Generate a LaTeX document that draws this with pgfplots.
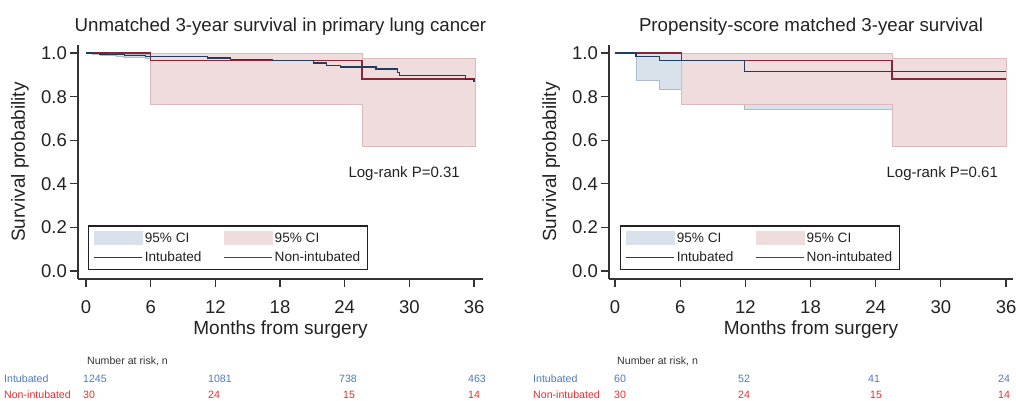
\documentclass[border=0pt]{standalone}
\usepackage{fontspec}
\setmainfont{Liberation Sans}
\usepackage{pgfplots}
\pgfplotsset{compat=1.18}
\definecolor{txt}{HTML}{222222}
\definecolor{axc}{HTML}{333333}
\definecolor{lblue}{HTML}{203D60}
\definecolor{lred}{HTML}{8C2437}
\definecolor{fblue}{HTML}{D9E2EB}
\definecolor{fred}{HTML}{EFDDDE}
\definecolor{eblue}{HTML}{AABCCE}
\definecolor{ered}{HTML}{DDB9BD}
\definecolor{nblue}{HTML}{4A7BBE}
\definecolor{nred}{HTML}{EE2B2B}
\pgfplotsset{kmaxis/.style={
  scale only axis, height=234pt, anchor=south west,
  ymin=-0.037, ymax=1.037,
  axis x line*=bottom, axis y line*=left,
  axis line style={axc, line width=1.2pt},
  tick style={axc, line width=1.2pt}, major tick length=8pt, tick align=outside,
  xtick={0,6,12,18,24,30,36}, ytick={0,0.2,0.4,0.6,0.8,1},
  /pgf/number format/assume math mode=true,
  tick label style={font=\fontsize{18.5}{21}\selectfont, text=txt},
  yticklabel style={/pgf/number format/fixed, /pgf/number format/fixed zerofill, /pgf/number format/precision=1, inner xsep=3pt},
  xticklabel style={yshift=-10pt},
  title style={at={(axis description cs:0.5,1.032)}, anchor=base, font=\fontsize{18.7}{22}\selectfont, text=txt},
  xlabel style={at={(axis description cs:0.5,-0.238)}, anchor=base, font=\fontsize{19}{22}\selectfont, text=txt},
  ylabel style={at={(axis description cs:-0.131,0.5)}, anchor=base, font=\fontsize{19}{22}\selectfont, text=txt},
  xlabel={Months from surgery}, ylabel={Survival probability},
  clip=false,
  legend columns=2,
  legend cell align=left,
  legend style={anchor=south west, draw=txt, line width=1.2pt, fill=white,
    inner xsep=5pt, inner ysep=4.5pt, font=\fontsize{13.6}{15}\selectfont, text=txt,
    nodes={inner sep=2pt}, row sep=4pt,
    /tikz/every even column/.append style={column sep=20pt}},
}}
\begin{document}
\begin{tikzpicture}
\path[use as bounding box] (0,0) rectangle (1016pt,401pt);
% ---------------- Left panel ----------------
\begin{axis}[kmaxis, at={(78pt,122pt)}, width=405pt, xmin=-0.74, xmax=36.83,
  title={Unmatched 3-year survival in primary lung cancer},
  legend style={at={(axis description cs:0.0247,0.0385)}}]
% intubated 95% CI band
\addplot[const plot, fill=fblue, draw=eblue, line width=0.6pt, forget plot] coordinates {
 (0,1.0)(0.6,1.0)(1.3,0.999)(2.0,0.998)(2.8,0.997)(3.6,0.996)(4.6,0.995)(5.5,0.993)
 (11.3,0.986)(13.4,0.980)(17.3,0.976)(21.1,0.966)(22.3,0.957)(23.6,0.950)(26.9,0.942)
 (28.9,0.927)(29.1,0.913)(35.2,0.898)(36.0,0.890)(36.1,0.890)
 (36.1,0.842)(36.0,0.858)(35.2,0.877)(29.1,0.893)(28.9,0.910)(26.9,0.920)(23.6,0.929)
 (22.3,0.940)(21.1,0.952)(17.3,0.958)(13.4,0.966)(11.3,0.977)(5.5,0.979)(4.6,0.982)
 (3.6,0.985)(2.8,0.988)(2.0,0.991)(1.3,0.994)(0.6,1.0)(0,1.0)} -- cycle;
% non-intubated 95% CI band
\addplot[const plot, fill=fred, draw=ered, line width=0.6pt, forget plot] coordinates {
 (0,1.0)(6.0,1.0)(25.6,0.977)(36.1,0.977)
 (36.1,0.574)(25.6,0.764)(6.0,1.0)(0,1.0)} -- cycle;
% survival curves
\addplot[const plot, lred, line width=1.2pt, forget plot] coordinates {
 (0,1.0)(6.0,0.965)(25.6,0.881)(36.1,0.881)};
\addplot[const plot, lblue, line width=1.2pt, forget plot] coordinates {
 (0,1.0)(0.6,0.998)(1.3,0.996)(2.0,0.994)(2.8,0.992)(3.6,0.990)(4.6,0.988)(5.5,0.986)
 (11.3,0.977)(13.4,0.970)(17.3,0.965)(21.1,0.954)(22.3,0.944)(23.6,0.936)(26.9,0.927)
 (28.9,0.911)(29.1,0.896)(35.2,0.880)(36.0,0.868)(36.1,0.868)};
\addlegendimage{legend image code/.code={\fill[fblue] (0pt,-6pt) rectangle (48pt,6pt);}}
\addlegendentry{95\% CI}
\addlegendimage{legend image code/.code={\fill[fred] (0pt,-6pt) rectangle (48pt,6pt);}}
\addlegendentry{95\% CI}
\addlegendimage{legend image code/.code={\draw[lblue, line width=1pt] (0pt,0pt) -- (48pt,0pt);}}
\addlegendentry{Intubated}
\addlegendimage{legend image code/.code={\draw[lred, line width=1pt] (0pt,0pt) -- (48pt,0pt);}}
\addlegendentry{Non-intubated}
\node[anchor=base east, font=\fontsize{15}{17}\selectfont, text=txt, inner sep=0pt] at (axis cs:34.7,0.431) {Log-rank P=0.31};
\end{axis}
% ---------------- Right panel ----------------
\begin{axis}[kmaxis, at={(609pt,122pt)}, width=404pt, xmin=-0.55, xmax=36.64,
  title={Propensity-score matched 3-year survival},
  legend style={at={(axis description cs:0.0272,0.0385)}}]
\addplot[const plot, fill=fblue, draw=eblue, line width=0.6pt, forget plot] coordinates {
 (0,1.0)(1.93,1.0)(4.1,0.997)(11.9,0.975)(36.0,0.975)
 (36.0,0.744)(11.9,0.832)(4.1,0.873)(1.93,1.0)(0,1.0)} -- cycle;
\addplot[const plot, fill=fred, draw=ered, line width=0.6pt, forget plot] coordinates {
 (0,1.0)(6.1,1.0)(25.5,0.977)(36.0,0.977)
 (36.0,0.574)(25.5,0.764)(6.1,1.0)(0,1.0)} -- cycle;
\addplot[const plot, lred, line width=1.2pt, forget plot] coordinates {
 (0,1.0)(6.1,0.965)(25.5,0.881)(36.0,0.881)};
\addplot[const plot, lblue, line width=1.2pt, forget plot] coordinates {
 (0,1.0)(1.93,0.983)(4.1,0.965)(11.9,0.914)(36.0,0.914)};
\addlegendimage{legend image code/.code={\fill[fblue] (0pt,-6pt) rectangle (48pt,6pt);}}
\addlegendentry{95\% CI}
\addlegendimage{legend image code/.code={\fill[fred] (0pt,-6pt) rectangle (48pt,6pt);}}
\addlegendentry{95\% CI}
\addlegendimage{legend image code/.code={\draw[lblue, line width=1pt] (0pt,0pt) -- (48pt,0pt);}}
\addlegendentry{Intubated}
\addlegendimage{legend image code/.code={\draw[lred, line width=1pt] (0pt,0pt) -- (48pt,0pt);}}
\addlegendentry{Non-intubated}
\node[anchor=base east, font=\fontsize{15}{17}\selectfont, text=txt, inner sep=0pt] at (axis cs:35.27,0.431) {Log-rank P=0.61};
\end{axis}
% ---------------- Number at risk ----------------
\begin{scope}[every node/.style={anchor=base west, inner sep=0pt, font=\fontsize{10.6}{12}\selectfont}]
\node[text=axc] at (87pt,36pt) {Number at risk, n};
\node[text=nblue] at (4pt,18.3pt) {Intubated};
\node[text=nred] at (4pt,2pt) {Non-intubated};
\node[text=nblue] at (83pt,18.3pt) {1245};
\node[text=nblue] at (208pt,18.3pt) {1081};
\node[text=nblue] at (339pt,18.3pt) {738};
\node[text=nblue] at (468pt,18.3pt) {463};
\node[text=nred] at (83pt,2pt) {30};
\node[text=nred] at (208pt,2pt) {24};
\node[text=nred] at (343pt,2pt) {15};
\node[text=nred] at (468pt,2pt) {14};
\node[text=axc] at (617pt,36pt) {Number at risk, n};
\node[text=nblue] at (533pt,18.3pt) {Intubated};
\node[text=nred] at (533pt,2pt) {Non-intubated};
\node[text=nblue] at (614pt,18.3pt) {60};
\node[text=nblue] at (738pt,18.3pt) {52};
\node[text=nblue] at (868pt,18.3pt) {41};
\node[text=nblue] at (998pt,18.3pt) {24};
\node[text=nred] at (614pt,2pt) {30};
\node[text=nred] at (738pt,2pt) {24};
\node[text=nred] at (870pt,2pt) {15};
\node[text=nred] at (998pt,2pt) {14};
\end{scope}
\end{tikzpicture}
\end{document}
